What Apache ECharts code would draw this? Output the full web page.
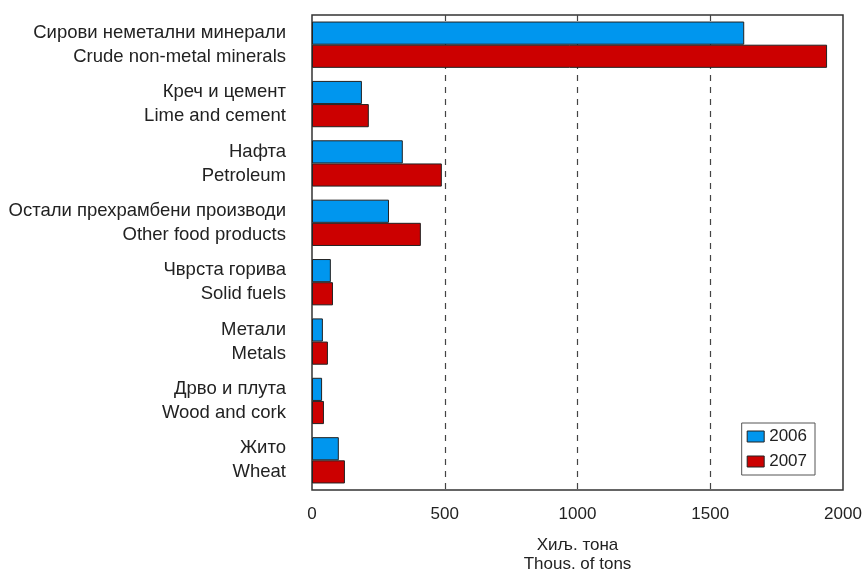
<!DOCTYPE html>
<html>
<head>
<meta charset="utf-8">
<script src="https://cdn.jsdelivr.net/npm/echarts@6/dist/echarts.min.js"></script>
<style>
  html, body { margin: 0; padding: 0; background: #fff; }
  #chart { width: 865px; height: 572px; }
</style>
</head>
<body>
<div id="chart"></div>
<script>
// категории (горе: српски, доле: англиски)
const namesMk = ['Сирови неметални минерали', 'Креч и цемент', 'Нафта', 'Остали прехрамбени производи',
  'Чврста горива', 'Метали', 'Дрво и плута', 'Жито'];
const namesEn = ['Crude non-metal minerals', 'Lime and cement', 'Petroleum', 'Other food products',
  'Solid fuels', 'Metals', 'Wood and cork', 'Wheat'];
const values2006 = [1628, 188, 342, 290, 71, 41, 38, 101];
const values2007 = [1940, 214, 489, 410, 79, 60, 45, 124];
const xTicks = [0, 500, 1000, 1500, 2000];

const font = '"Liberation Sans", Arial, Helvetica, sans-serif';
const chart = echarts.init(document.getElementById('chart'));

chart.setOption({
  animation: false,
  textStyle: { fontFamily: font },
  grid: {
    left: 312, right: 22, top: 15, bottom: 82,
    outerBoundsMode: 'none',
    containLabel: false,
    show: true, borderColor: '#333', borderWidth: 1.5, backgroundColor: 'transparent'
  },
  legend: {
    orient: 'vertical',
    right: 50, bottom: 97,
    itemWidth: 17, itemHeight: 11, itemGap: 8,
    padding: [5, 8, 5, 5],
    borderColor: '#555', borderWidth: 1, borderRadius: 0,
    textStyle: { fontSize: 17, color: '#222', fontFamily: font },
    data: [
      { name: '2006', icon: 'rect', itemStyle: { borderColor: '#222', borderWidth: 1 } },
      { name: '2007', icon: 'rect', itemStyle: { borderColor: '#222', borderWidth: 1 } }
    ]
  },
  xAxis: {
    type: 'value',
    min: xTicks[0], max: xTicks[xTicks.length - 1], interval: 500,
    axisLine: { show: false },
    axisTick: { show: false },
    axisLabel: { fontSize: 17, color: '#222', margin: 16, formatter: v => String(v) },
    splitLine: {
      show: true, showMinLine: false, showMaxLine: false,
      lineStyle: { color: '#444', type: [6, 6], width: 1.2 }
    },
    name: 'Хиљ. тона\nThous. of tons',
    nameLocation: 'middle',
    nameGap: 46,
    nameTextStyle: { fontSize: 17, color: '#222', lineHeight: 19 }
  },
  yAxis: {
    type: 'category',
    inverse: true,
    data: namesEn,
    axisLine: { show: false },
    axisTick: { show: false },
    axisLabel: {
      margin: 26,
      align: 'right',
      fontSize: 18.5,
      lineHeight: 24,
      color: '#222',
      formatter: function (value, idx) {
        return namesMk[idx] + '\n' + value;
      }
    }
  },
  series: [
    {
      name: '2006', type: 'bar', data: values2006,
      barGap: '0%', barCategoryGap: '22%',
      itemStyle: { color: '#0096ee', borderColor: '#222', borderWidth: 1 }
    },
    {
      name: '2007', type: 'bar', data: values2007,
      itemStyle: { color: '#cc0000', borderColor: '#222', borderWidth: 1 }
    }
  ]
});
</script>
</body>
</html>
